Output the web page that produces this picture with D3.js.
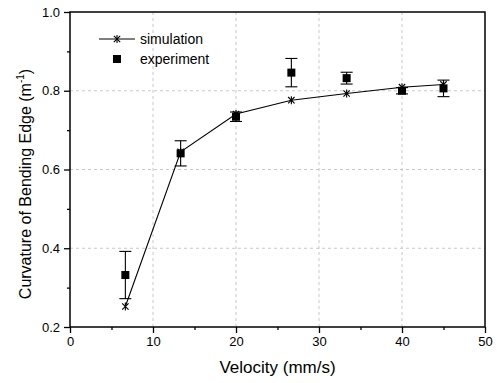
<!DOCTYPE html>
<html>
<head>
<meta charset="utf-8">
<script src="https://cdn.jsdelivr.net/npm/d3@7/dist/d3.min.js"></script>
<style>
  html, body { margin: 0; padding: 0; background: #fff; }
  svg { display: block; font-family: Arial, "Liberation Sans", sans-serif; }
</style>
</head>
<body>
<svg id="chart" width="497" height="383"></svg>
<script>
// Bending-edge curvature versus velocity
const velocity = [6.67, 13.33, 20, 26.67, 33.33, 40, 45];
const simulation = [0.252, 0.645, 0.741, 0.776, 0.793, 0.809, 0.816];
const experiment = [0.332, 0.641, 0.734, 0.846, 0.832, 0.800, 0.806];
const experimentErr = [0.060, 0.032, 0.012, 0.036, 0.015, 0.008, 0.021];

const xTicks = [0, 10, 20, 30, 40, 50];
const xMinor = [5, 15, 25, 35, 45];
const yTicks = [0.2, 0.4, 0.6, 0.8, 1.0];
const yMinor = [0.3, 0.5, 0.7, 0.9];

const svg = d3.select("#chart");
const plotLeft = 70, plotRight = 485, plotTop = 12, plotBottom = 327;

const x = d3.scaleLinear().domain([0, 50]).range([plotLeft, plotRight]);
const y = d3.scaleLinear().domain([0.2, 1.0]).range([plotBottom, plotTop]);

// dashed grid at major ticks
const grid = svg.append("g").attr("stroke", "#c8c8c8").attr("stroke-width", 1)
  .attr("stroke-dasharray", "3,3");
xTicks.filter(t => t > 0 && t < 50).forEach(t => {
  grid.append("line").attr("x1", x(t)).attr("x2", x(t)).attr("y1", plotTop).attr("y2", plotBottom);
});
yTicks.filter(t => t > 0.2 && t < 1.0).forEach(t => {
  grid.append("line").attr("x1", plotLeft).attr("x2", plotRight).attr("y1", y(t)).attr("y2", y(t));
});

// axes
const fmtY = d3.format(".1f");
const xAxis = svg.append("g").attr("transform", `translate(0,${plotBottom})`)
  .call(d3.axisBottom(x).tickValues(xTicks).tickSize(6).tickPadding(4).tickFormat(d3.format("d")));
const xAxisMinor = svg.append("g").attr("transform", `translate(0,${plotBottom})`)
  .call(d3.axisBottom(x).tickValues(xMinor).tickSize(3).tickFormat(""));
const yAxis = svg.append("g").attr("transform", `translate(${plotLeft},0)`)
  .call(d3.axisLeft(y).tickValues(yTicks).tickSize(6).tickPadding(4).tickFormat(fmtY));
const yAxisMinor = svg.append("g").attr("transform", `translate(${plotLeft},0)`)
  .call(d3.axisLeft(y).tickValues(yMinor).tickSize(3).tickFormat(""));

[xAxis, xAxisMinor, yAxis, yAxisMinor].forEach(g => {
  g.select(".domain").remove();
  g.selectAll(".tick line").attr("stroke", "#000").attr("stroke-width", 1.3);
  g.selectAll(".tick text").attr("fill", "#000").attr("font-size", 13)
    .attr("font-family", "Arial, 'Liberation Sans', sans-serif");
});

// frame
svg.append("rect").attr("x", plotLeft).attr("y", plotTop)
  .attr("width", plotRight - plotLeft).attr("height", plotBottom - plotTop)
  .attr("fill", "none").attr("stroke", "#000").attr("stroke-width", 1.5);

// simulation line
const line = d3.line().x((d, i) => x(velocity[i])).y(d => y(d));
svg.append("path").datum(simulation).attr("d", line)
  .attr("fill", "none").attr("stroke", "#000").attr("stroke-width", 1.1);

function star(g, cx, cy, r) {
  const s = g.append("g").attr("stroke", "#000").attr("stroke-width", 1.1);
  s.append("line").attr("x1", cx).attr("x2", cx).attr("y1", cy - r).attr("y2", cy + r);
  const d = r * 0.8;
  s.append("line").attr("x1", cx - d).attr("x2", cx + d).attr("y1", cy - d).attr("y2", cy + d);
  s.append("line").attr("x1", cx - d).attr("x2", cx + d).attr("y1", cy + d).attr("y2", cy - d);
}
simulation.forEach((v, i) => star(svg, x(velocity[i]), y(v), 4));

// experiment with error bars
const eb = svg.append("g").attr("stroke", "#000").attr("stroke-width", 1.1);
experiment.forEach((v, i) => {
  const cx = x(velocity[i]);
  const y1 = y(v + experimentErr[i]), y2 = y(v - experimentErr[i]);
  eb.append("line").attr("x1", cx).attr("x2", cx).attr("y1", y1).attr("y2", y2);
  eb.append("line").attr("x1", cx - 6).attr("x2", cx + 6).attr("y1", y1).attr("y2", y1);
  eb.append("line").attr("x1", cx - 6).attr("x2", cx + 6).attr("y1", y2).attr("y2", y2);
});
svg.append("g").selectAll("rect").data(experiment).join("rect")
  .attr("x", (d, i) => x(velocity[i]) - 4).attr("y", d => y(d) - 4)
  .attr("width", 8).attr("height", 8).attr("fill", "#000");

// legend
const lg = svg.append("g");
lg.append("line").attr("x1", 99).attr("x2", 135).attr("y1", 39).attr("y2", 39)
  .attr("stroke", "#000").attr("stroke-width", 1.1);
star(lg, 117, 39, 4);
lg.append("text").attr("x", 140).attr("y", 39).attr("dy", "0.35em")
  .attr("font-size", 14).text("simulation");
lg.append("rect").attr("x", 113).attr("y", 55).attr("width", 8).attr("height", 8).attr("fill", "#000");
lg.append("text").attr("x", 140).attr("y", 59).attr("dy", "0.35em")
  .attr("font-size", 14).text("experiment");

// axis titles
svg.append("text").attr("x", (plotLeft + plotRight) / 2).attr("y", 373)
  .attr("text-anchor", "middle").attr("font-size", 17).text("Velocity (mm/s)");

const yt = svg.append("text")
  .attr("transform", "translate(31,184) rotate(-90)")
  .attr("text-anchor", "middle").attr("font-size", 16);
yt.append("tspan").text("Curvature of Bending Edge (m");
yt.append("tspan").attr("font-size", 10).attr("dy", -7).text("-1");
yt.append("tspan").attr("dy", 7).text(")");
</script>
</body>
</html>
